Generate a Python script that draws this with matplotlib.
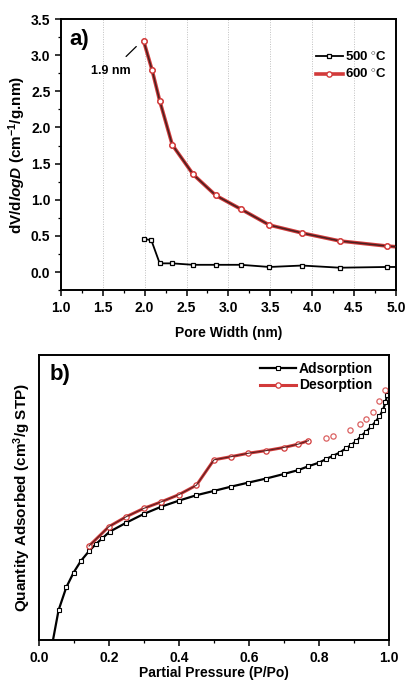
import numpy as np
import matplotlib
matplotlib.use('Agg')
import matplotlib.pyplot as plt
from matplotlib.ticker import MultipleLocator

plt.rcParams['font.family'] = ['Liberation Sans', 'DejaVu Sans']
plt.rcParams['font.weight'] = 'bold'
plt.rcParams['mathtext.fontset'] = 'custom'
plt.rcParams['mathtext.rm'] = 'Liberation Sans:bold'
plt.rcParams['mathtext.it'] = 'Liberation Sans:bold:italic'
plt.rcParams['mathtext.bf'] = 'Liberation Sans:bold'

RED = '#d23a3a'

# panel a) pore size distribution
pw_600 = [1.99, 2.09, 2.18, 2.33, 2.58, 2.85, 3.15, 3.49, 3.88, 4.33, 4.89, 5.0]
dv_600 = [3.19, 2.79, 2.37, 1.76, 1.35, 1.06, 0.87, 0.65, 0.54, 0.43, 0.36, 0.35]
pw_500 = [1.99, 2.08, 2.18, 2.33, 2.58, 2.85, 3.15, 3.49, 3.88, 4.33, 4.89, 5.0]
dv_500 = [0.46, 0.44, 0.12, 0.12, 0.10, 0.10, 0.10, 0.07, 0.09, 0.06, 0.07, 0.07]

# panel b) isotherm (y in arbitrary units, no tick labels in the original)
p_ads = [0.04, 0.056, 0.078, 0.099, 0.12, 0.143, 0.162, 0.181, 0.202, 0.25, 0.299,
         0.35, 0.40, 0.45, 0.50, 0.549, 0.598, 0.648, 0.699, 0.741, 0.769, 0.80,
         0.821, 0.84, 0.859, 0.878, 0.892, 0.907, 0.921, 0.935, 0.95, 0.962,
         0.973, 0.983, 0.99, 0.995]
q_ads = [0.0, 10.5, 18.5, 23.7, 27.8, 31.2, 33.6, 35.7, 38.0, 41.2, 44.2,
         46.8, 48.9, 50.8, 52.3, 53.8, 55.2, 56.6, 58.2, 59.6, 60.9, 62.2,
         63.5, 64.6, 65.7, 67.3, 68.4, 69.8, 71.6, 73.1, 74.9, 76.6,
         78.4, 80.7, 83.3, 86.0]
p_des = [0.143, 0.20, 0.25, 0.30, 0.35, 0.40, 0.45, 0.50, 0.549, 0.598, 0.648,
         0.699, 0.741, 0.77, 0.819, 0.84, 0.89, 0.916, 0.935, 0.954, 0.973, 0.99]
q_des = [33.0, 39.8, 43.3, 46.2, 48.5, 51.0, 54.3, 63.2, 64.3, 65.5, 66.4,
         67.5, 68.7, 69.9, 70.8, 71.6, 73.7, 75.7, 77.4, 80.1, 83.9, 87.7]
n_des_line = 14  # line only drawn up to P/Po = 0.77

fig = plt.figure(figsize=(4.06, 6.81), dpi=100)

ax1 = fig.add_axes([0.150, 0.574, 0.825, 0.398])
ax1.plot(pw_500, dv_500, '-', color='black', lw=1.3, marker='s', ms=3.3,
         mfc='white', mec='black', mew=0.9, label='500 $^{\\circ}$C', markevery=list(range(11)))
ax1.plot(pw_600, dv_600, '-', color=RED, lw=2.6, marker='o', ms=3.8,
         mfc='white', mec=RED, mew=1.0, label='600 $^{\\circ}$C', markevery=list(range(11)))
ax1.plot(pw_600, dv_600, '-', color='#4a2020', lw=1.1, zorder=3)
ax1.plot(pw_600[:11], dv_600[:11], 'o', ms=3.8, mfc='white', mec=RED, mew=1.0, zorder=4)
ax1.set_xlim(1.0, 5.0)
ax1.set_ylim(-0.25, 3.5)
ax1.xaxis.set_major_locator(MultipleLocator(0.5))
ax1.xaxis.set_minor_locator(MultipleLocator(0.25))
ax1.yaxis.set_major_locator(MultipleLocator(0.5))
ax1.yaxis.set_minor_locator(MultipleLocator(0.25))
for xv in [1.5, 2.0, 2.5, 3.0, 3.5, 4.0, 4.5]:
    ax1.axvline(xv, color='#c0c0c0', lw=0.7, ls=(0, (1, 1.5)), zorder=0)
ax1.set_xlabel('Pore Width (nm)', fontsize=10, fontweight='bold', labelpad=8)
ax1.set_ylabel('dV/d$\\it{logD}$ (cm$^{-1}$/g.nm)', fontsize=11, fontweight='bold', labelpad=2)
ax1.text(1.1, 3.22, 'a)', fontsize=16, fontweight='bold', va='center')
ax1.annotate('1.9 nm', xy=(1.9, 3.12), xytext=(1.6, 2.78), fontsize=9,
             fontweight='bold', ha='center', va='center',
             arrowprops=dict(arrowstyle='-', color='black', lw=0.9, shrinkA=6, shrinkB=0))
ax1.legend(loc='upper right', frameon=False, fontsize=9.5, handlelength=2.0,
           handletextpad=0.2, bbox_to_anchor=(1.01, 0.93), labelspacing=0.3)

ax2 = fig.add_axes([0.096, 0.060, 0.862, 0.419])
ax2.plot(p_ads, q_ads, '-', color='black', lw=1.6, marker='s', ms=3.2,
         mfc='white', mec='black', mew=0.8, label='Adsorption', markevery=list(range(1, len(p_ads))))
ax2.plot(p_des[:n_des_line], q_des[:n_des_line], '-', color=RED, lw=2.2,
         marker='o', ms=3.8, mfc='white', mec=RED, mew=0.9, label='Desorption')
ax2.plot(p_des[:n_des_line], q_des[:n_des_line], '-', color='#5a2020', lw=0.8, zorder=3)
ax2.plot(p_des[n_des_line:], q_des[n_des_line:], 'o', ms=3.8, mfc='white',
         mec=RED, mew=0.9, alpha=0.8)
ax2.set_xlim(0.0, 1.0)
ax2.set_ylim(0, 100)
ax2.xaxis.set_major_locator(MultipleLocator(0.2))
ax2.xaxis.set_minor_locator(MultipleLocator(0.1))
ax2.set_yticks([])
ax2.set_xlabel('Partial Pressure (P/Po)', fontsize=10, fontweight='bold', labelpad=1)
ax2.set_ylabel('Quantity Adsorbed (cm$^{3}$/g STP)', fontsize=11, fontweight='bold', labelpad=4)
ax2.text(0.03, 93, 'b)', fontsize=16, fontweight='bold', va='center')
ax2.legend(loc='upper right', frameon=False, fontsize=10, handlelength=2.6,
           handletextpad=0.2, bbox_to_anchor=(0.99, 1.02), labelspacing=0.2)

for ax in (ax1, ax2):
    for s in ax.spines.values():
        s.set_linewidth(1.4)
    ax.tick_params(which='major', direction='out', length=4, width=1.1, labelsize=10)
    ax.tick_params(which='minor', direction='out', length=2.5, width=0.9)
    for lab in ax.get_xticklabels() + ax.get_yticklabels():
        lab.set_fontweight('bold')

fig.savefig('out.png', dpi=100)
